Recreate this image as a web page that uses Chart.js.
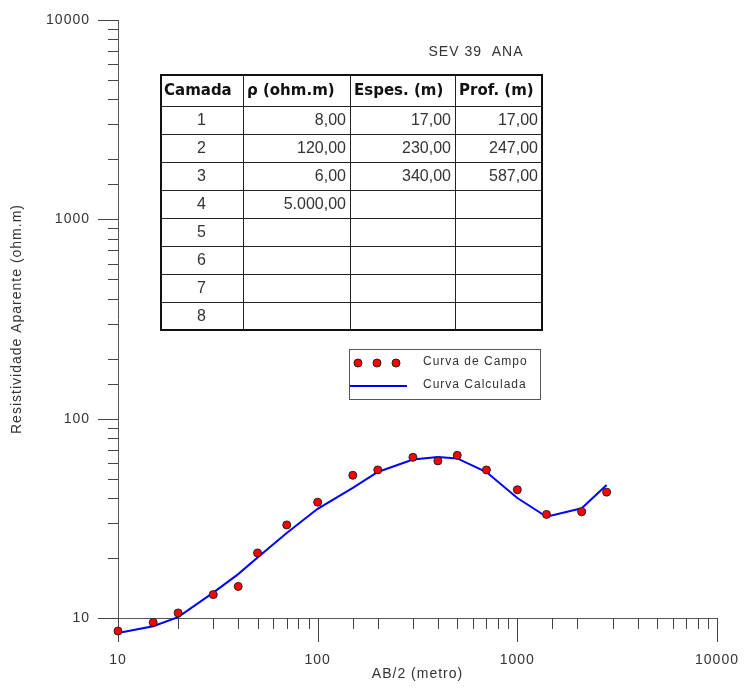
<!DOCTYPE html>
<html>
<head>
<meta charset="utf-8">
<script src="https://cdn.jsdelivr.net/npm/chart.js@4.4.0/dist/chart.umd.min.js"></script>
<style>
  html, body { margin: 0; padding: 0; background: #fff; }
</style>
</head>
<body>
<canvas id="sevChart" width="744" height="689"></canvas>
<script>
// AB/2 spacings (m)
const abHalf = [10, 15, 20, 30, 40, 50, 70, 100, 150, 200, 300, 400, 500, 700, 1000, 1400, 2100, 2800];
// field curve - apparent resistivity (ohm.m)
const campo = [8.6, 9.5, 10.6, 13.1, 14.4, 21.2, 29.3, 38.1, 52.0, 55.3, 64.0, 61.4, 65.5, 55.3, 44.0, 33.1, 34.1, 42.8];
// calculated curve from the layer model
const calculada = [8.4, 9.1, 10.1, 13.4, 16.6, 20.1, 26.7, 35.3, 45.0, 54.0, 62.4, 64.3, 63.2, 54.0, 40.0, 32.2, 35.5, 46.5];

// labelled ticks on both log axes
const decadeTicks = [10, 100, 1000, 10000];

// layer table
const tableHeader = ["Camada", "\u03c1 (ohm.m)", "Espes. (m)", "Prof. (m)"];
const camadas = ["1", "2", "3", "4", "5", "6", "7", "8"];
const resistividade = ["8,00", "120,00", "6,00", "5.000,00", "", "", "", ""];
const espessura = ["17,00", "230,00", "340,00", "", "", "", "", ""];
const profundidade = ["17,00", "247,00", "587,00", "", "", "", "", ""];

const legendLabels = ["Curva de Campo", "Curva Calculada"];
const chartTitle = "SEV 39  ANA";

const FONT = "'Liberation Sans', Arial, sans-serif";

function isDecade(v) {
  const l = Math.log10(v);
  return Math.abs(l - Math.round(l)) < 1e-9;
}

// spacing between letters like the original software output
const spacing = {
  id: "spacing",
  beforeDraw(chart) {
    chart.ctx.letterSpacing = "1px";
  }
};

// the first field points sit under the x axis (below 10 ohm.m),
// so let the points be drawn a little outside the plot area
const looseArea = {
  id: "looseArea",
  beforeDatasetsDraw(chart) {
    chart.chartArea.bottom += 30;
  },
  afterDatasetsDraw(chart) {
    chart.chartArea.bottom -= 30;
  }
};

// long ticks on decades, short ones in between
const tickMarks = {
  id: "tickMarks",
  beforeDatasetsDraw(chart) {
    const ctx = chart.ctx;
    const xs = chart.scales.x;
    const ys = chart.scales.y;
    ctx.save();
    ctx.strokeStyle = "#444";
    ctx.lineWidth = 1;
    ctx.beginPath();
    xs.ticks.forEach(t => {
      const px = Math.round(xs.getPixelForValue(t.value)) + 0.5;
      const len = isDecade(t.value) ? 24 : 11;
      ctx.moveTo(px, xs.top);
      ctx.lineTo(px, xs.top + len);
    });
    ys.ticks.forEach(t => {
      const py = Math.round(ys.getPixelForValue(t.value)) + 0.5;
      const len = isDecade(t.value) ? 20 : 10;
      ctx.moveTo(ys.right, py);
      ctx.lineTo(ys.right - len, py);
    });
    ctx.stroke();
    ctx.restore();
  }
};

// title, layer table and legend box
const extras = {
  id: "extras",
  beforeDatasetsDraw(chart) {
    const ctx = chart.ctx;
    ctx.save();

    // title
    ctx.fillStyle = "#333";
    ctx.font = "14px " + FONT;
    ctx.textAlign = "center";
    ctx.textBaseline = "middle";
    ctx.fillText(chartTitle, 476, 52);

    // table
    const colX = [160, 243, 350, 455, 542];
    const rowY = [74, 106];
    for (let i = 1; i <= camadas.length; i++) rowY.push(106 + i * 28);
    const top = rowY[0], bottom = rowY[rowY.length - 1];

    ctx.strokeStyle = "#222";
    ctx.lineWidth = 1;
    ctx.beginPath();
    colX.slice(1, -1).forEach(x => { ctx.moveTo(x + 0.5, top); ctx.lineTo(x + 0.5, bottom); });
    rowY.slice(1, -1).forEach(y => { ctx.moveTo(colX[0], y + 0.5); ctx.lineTo(colX[4], y + 0.5); });
    ctx.stroke();
    ctx.lineWidth = 2;
    ctx.strokeStyle = "#111";
    ctx.strokeRect(colX[0] + 1, top + 1, colX[4] - colX[0] - 1, bottom - top - 1);

    ctx.letterSpacing = "0px";
    ctx.fillStyle = "#111";
    ctx.font = "bold 15px 'DejaVu Sans', sans-serif";
    ctx.textAlign = "left";
    tableHeader.forEach((h, i) => ctx.fillText(h, colX[i] + 4, (rowY[0] + rowY[1]) / 2 + 1));

    ctx.font = "16px " + FONT;
    ctx.fillStyle = "#333";
    camadas.forEach((c, r) => {
      const cy = (rowY[r + 1] + rowY[r + 2]) / 2 + 1;
      ctx.textAlign = "center";
      ctx.fillText(c, (colX[0] + colX[1]) / 2, cy);
      ctx.textAlign = "right";
      ctx.fillText(resistividade[r], colX[2] - 4, cy);
      ctx.fillText(espessura[r], colX[3] - 4, cy);
      ctx.fillText(profundidade[r], colX[4] - 4, cy);
    });

    // legend
    ctx.letterSpacing = "1px";
    ctx.lineWidth = 1;
    ctx.strokeStyle = "#555";
    ctx.strokeRect(349.5, 349.5, 191, 50);
    [358, 377, 396].forEach(x => {
      ctx.beginPath();
      ctx.arc(x, 363, 4, 0, Math.PI * 2);
      ctx.fillStyle = "#ff0000";
      ctx.fill();
      ctx.strokeStyle = "#222";
      ctx.stroke();
    });
    ctx.beginPath();
    ctx.strokeStyle = "#0000ff";
    ctx.lineWidth = 2;
    ctx.moveTo(350, 386);
    ctx.lineTo(407, 386);
    ctx.stroke();
    ctx.fillStyle = "#333";
    ctx.font = "12px " + FONT;
    ctx.textAlign = "left";
    ctx.fillText(legendLabels[0], 423, 362);
    ctx.fillText(legendLabels[1], 423, 385);

    ctx.restore();
  }
};

function logTickLabel(v) {
  return decadeTicks.includes(v) ? String(v) : "";
}

function noPadding(scale) {
  scale.paddingTop = 0;
  scale.paddingBottom = 0;
  scale.paddingLeft = 0;
  scale.paddingRight = 0;
}

new Chart(document.getElementById("sevChart"), {
  type: "scatter",
  data: {
    datasets: [
      {
        label: legendLabels[0],
        data: abHalf.map((x, i) => ({ x: x, y: campo[i] })),
        pointRadius: 4,
        pointBackgroundColor: "#ff0000",
        pointBorderColor: "#222",
        pointBorderWidth: 1,
        showLine: false,
        clip: false
      },
      {
        label: legendLabels[1],
        data: abHalf.map((x, i) => ({ x: x, y: calculada[i] })),
        showLine: true,
        borderColor: "#0000ff",
        borderWidth: 2,
        pointRadius: 0,
        tension: 0,
        clip: false
      }
    ]
  },
  options: {
    responsive: false,
    animation: false,
    devicePixelRatio: 1,
    layout: { padding: { left: 0, right: 27, top: 20, bottom: 0 } },
    plugins: {
      legend: { display: false },
      tooltip: { enabled: false }
    },
    scales: {
      x: {
        type: "logarithmic",
        min: 10,
        max: 10000,
        grid: { display: false, drawTicks: false },
        border: { display: true, color: "#555" },
        ticks: {
          autoSkip: false,
          maxRotation: 0,
          padding: 34,
          color: "#333",
          font: { family: FONT, size: 14 },
          callback: logTickLabel
        },
        title: {
          display: true,
          text: "AB/2 (metro)",
          color: "#333",
          font: { family: FONT, size: 14 },
          padding: { top: 0, bottom: 6 }
        },
        afterFit(scale) {
          scale.height = 71;
          noPadding(scale);
        }
      },
      y: {
        type: "logarithmic",
        min: 10,
        max: 10000,
        grid: { display: false, drawTicks: false },
        border: { display: true, color: "#555" },
        ticks: {
          autoSkip: false,
          padding: 28,
          color: "#333",
          font: { family: FONT, size: 14 },
          callback: logTickLabel
        },
        title: {
          display: true,
          text: "Resistividade Aparente (ohm.m)",
          color: "#333",
          font: { family: FONT, size: 14 },
          padding: { top: 9, bottom: 0 }
        },
        afterFit(scale) {
          scale.width = 118;
          noPadding(scale);
        }
      }
    }
  },
  plugins: [spacing, looseArea, tickMarks, extras]
});
</script>
</body>
</html>
